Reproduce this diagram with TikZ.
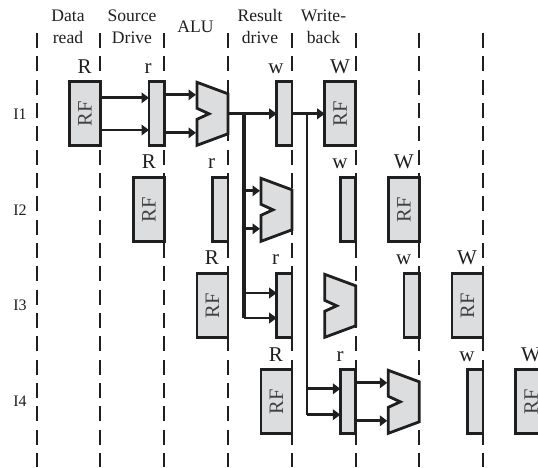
\documentclass[tikz,border=0pt]{standalone}
\usepackage{fontspec}
\setmainfont{Liberation Serif}
\usetikzlibrary{arrows.meta,calc}
\definecolor{boxfill}{HTML}{DCDDDF}
\definecolor{ink}{HTML}{1F1F1F}
\tikzset{
  phase/.style={draw=ink,line width=1.9pt,dash pattern=on 15pt off 8.33pt},
  rfbox/.style={draw=ink,fill=boxfill,line width=2.8pt,minimum width=31pt,minimum height=64pt,inner sep=0pt,outer sep=0pt},
  latch/.style={draw=ink,fill=boxfill,line width=2.8pt,minimum width=15.3pt,minimum height=64pt,inner sep=0pt,outer sep=0pt},
  alublock/.style={draw=ink,fill=boxfill,line width=2.8pt,line join=miter},
  rflabel/.style={rotate=90,font=\fontsize{20.5}{22}\selectfont,text=ink!85,inner sep=0pt},
  head/.style={anchor=base,font=\fontsize{17.6}{20}\selectfont,text=ink,inner sep=0pt},
  stagelab/.style={anchor=base,font=\fontsize{21}{24}\selectfont,text=ink,inner sep=0pt},
  rowlab/.style={font=\fontsize{16}{18}\selectfont,text=ink,inner sep=0pt},
  wire/.style={draw=ink,line width=2.7pt},
  arr/.style={wire,-{Triangle[length=7.5pt,width=10.5pt]}},
}
\newcommand{\rfnode}[3]{\node[rfbox] (#1) at (#2-15.5,#3) {}; \node[rflabel] (#1t) at (#1) {RF};}
\newcommand{\latchnode}[3]{\node[latch] (#1) at (#2-7.65,#3) {};}
\newcommand{\alunode}[3]{%
  \draw[alublock] (#2-31,#3-31.5) -- (#2,#3-20) -- (#2,#3+20) -- (#2-31,#3+31.5) -- (#2-31,#3+5.5) -- (#2-19,#3) -- (#2-31,#3-5.5) -- cycle;
  \coordinate (#1a) at (#2-32,#3-19);
  \coordinate (#1b) at (#2-32,#3+19);
  \coordinate (#1o) at (#2,#3);}
\begin{document}
\begin{tikzpicture}[x=1pt,y=-1pt]
\useasboundingbox (0,0) rectangle (538,467);
\clip (0,0) rectangle (538,467);
% phase boundaries
\foreach \p/\x in {a/36.7,b/100.3,c/164.3,d/228,e/292,f/355.7,g/419.3,h/483}{
  \coordinate (top\p) at (\x,33);
  \coordinate (bot\p) at (\x,467);
  \draw[phase] (top\p) -- (bot\p);
}
% stage headers
\node[head] (h1a) at (68,21.7) {Data};
\node[head] (h1b) at (68,43) {read};
\node[head] (h2a) at (132,21.7) {Source};
\node[head] (h2b) at (132,43) {Drive};
\node[head] (h3) at (195.5,32) {ALU};
\node[head] (h4a) at (260,21.7) {Result};
\node[head] (h4b) at (260,43) {drive};
\node[head] (h5a) at (323.5,21.7) {Write-};
\node[head] (h5b) at (323.5,43) {back};
% row labels
\node[rowlab] (i1) at (20,114) {I1};
\node[rowlab] (i2) at (20,210) {I2};
\node[rowlab] (i3) at (20,305) {I3};
\node[rowlab] (i4) at (20,401) {I4};
% blocks
\rfnode{rfA}{100.3}{113.8}
\latchnode{lA}{164.3}{113.8}
\alunode{aA}{228}{113.8}
\latchnode{wA}{292}{113.8}
\rfnode{WA}{355.7}{113.8}
\rfnode{rfB}{164.3}{209.8}
\latchnode{lB}{228}{209.8}
\alunode{aB}{292}{209.8}
\latchnode{wB}{355.7}{209.8}
\rfnode{WB}{419.3}{209.8}
\rfnode{rfC}{228}{305.8}
\latchnode{lC}{292}{305.8}
\alunode{aC}{355.7}{305.8}
\latchnode{wC}{419.3}{305.8}
\rfnode{WC}{483}{305.8}
\rfnode{rfD}{292}{401.8}
\latchnode{lD}{355.7}{401.8}
\alunode{aD}{419.3}{401.8}
\latchnode{wD}{483}{401.8}
\rfnode{WD}{546.7}{401.8}
% stage letters
\node[stagelab] (s1) at (84.7,73) {R};
\node[stagelab] (s2) at (148,73) {r};
\node[stagelab] (s3) at (276,73) {w};
\node[stagelab] (s4) at (340,73) {W};
\node[stagelab] (s5) at (149,168) {R};
\node[stagelab] (s6) at (211.7,168) {r};
\node[stagelab] (s7) at (340,168) {w};
\node[stagelab] (s8) at (403.7,168) {W};
\node[stagelab] (s9) at (212,264.7) {R};
\node[stagelab] (s10) at (275.5,264.7) {r};
\node[stagelab] (s11) at (403.7,264.7) {w};
\node[stagelab] (s12) at (467,264.7) {W};
\node[stagelab] (s13) at (276,361) {R};
\node[stagelab] (s14) at (340,361) {r};
\node[stagelab] (s15) at (467,361) {w};
\node[stagelab] (s16) at (531,361) {W};
% I1 connectors
\draw[arr] ($(rfA.east)+(0,-16)$) -- ($(lA.west)+(0,-16)$);
\draw[arr] ($(rfA.east)+(0,16.2)$) -- ($(lA.west)+(0,16.2)$);
\draw[arr] (lA.east |- aAa) -- (aAa);
\draw[arr] (lA.east |- aAb) -- (aAb);
\draw[arr] (aAo) -- (wA.west);
\draw[arr] (wA.east) -- (WA.west);
% forwarding from ALU result
\coordinate (busA) at (244,113.8);
\coordinate (busB) at (307,113.8);
\coordinate (busAend) at (244,318);
\coordinate (busBend) at (307,414.7);
\draw[wire,line width=3.4pt] (busA) -- (busAend);
\draw[wire] (busB) -- (busBend);
\draw[arr] (busA |- aBa) -- (aBa);
\draw[arr] (busA |- aBb) -- (aBb);
\draw[arr] ($(busA |- lC.west)+(0,-12.8)$) -- ($(lC.west)+(0,-12.8)$);
\draw[arr] (busAend) -- ($(lC.west)+(0,12.2)$);
\draw[arr] ($(busB |- lD.west)+(0,-13)$) -- ($(lD.west)+(0,-13)$);
\draw[arr] (busBend) -- ($(lD.west)+(0,12.9)$);
\draw[arr] (lD.east |- aDa) -- (aDa);
\draw[arr] (lD.east |- aDb) -- (aDb);
\end{tikzpicture}
\end{document}
